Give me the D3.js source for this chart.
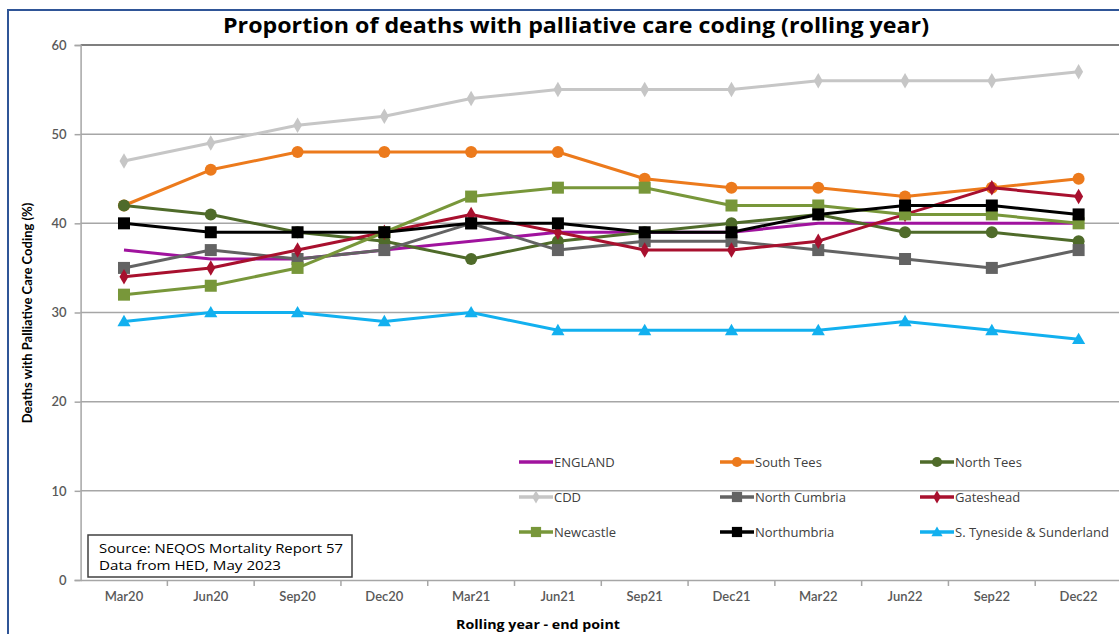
<!DOCTYPE html>
<html><head><meta charset="utf-8">
<script src="https://cdn.jsdelivr.net/npm/d3@7"></script>
<style>body{margin:0;background:#fff}svg{display:block;font-family:Lato,"Open Sans",sans-serif}</style>
</head><body><svg id="c" width="1119" height="634"></svg>
<script>
const categories = ["Mar20","Jun20","Sep20","Dec20","Mar21","Jun21","Sep21","Dec21","Mar22","Jun22","Sep22","Dec22"];
const england      = [37,36,36,37,38,39,39,39,40,40,40,40];
const southTees    = [42,46,48,48,48,48,45,44,44,43,44,45];
const northTees    = [42,41,39,38,36,38,39,40,41,39,39,38];
const cdd          = [47,49,51,52,54,55,55,55,56,56,56,57];
const northCumbria = [35,37,36,37,40,37,38,38,37,36,35,37];
const gateshead    = [34,35,37,39,41,39,37,37,38,41,44,43];
const newcastle    = [32,33,35,39,43,44,44,42,42,41,41,40];
const northumbria  = [40,39,39,39,40,40,39,39,41,42,42,41];
const sTyneside    = [29,30,30,29,30,28,28,28,28,29,28,27];
const yTicks = [0,10,20,30,40,50,60];

const series = [
  {name:"ENGLAND", values:england, color:"#a0139e", marker:"none"},
  {name:"South Tees", values:southTees, color:"#ec7a1c", marker:"circle"},
  {name:"North Tees", values:northTees, color:"#4f6b2a", marker:"circle"},
  {name:"CDD", values:cdd, color:"#c6c6c6", marker:"diamond"},
  {name:"North Cumbria", values:northCumbria, color:"#636363", marker:"square"},
  {name:"Gateshead", values:gateshead, color:"#a8102e", marker:"diamond"},
  {name:"Newcastle", values:newcastle, color:"#78973a", marker:"square"},
  {name:"Northumbria", values:northumbria, color:"#000000", marker:"square"},
  {name:"S. Tyneside & Sunderland", values:sTyneside, color:"#12b0ef", marker:"triangle"}
];

const svg = d3.select("#c");
const pLeft = 80.6, pRight = 1122, pTop = 45, pBottom = 580;
const x = d3.scaleBand().domain(categories).range([pLeft, pRight]);
const y = d3.scaleLinear().domain([0,60]).range([pBottom, pTop]);

// outer frame
svg.append("rect").attr("x",8).attr("y",10).attr("width",1130).attr("height",640)
  .attr("fill","none").attr("stroke","#2f5597").attr("stroke-width",2);

// title
svg.append("text").attr("x",576).attr("y",33).attr("text-anchor","middle")
  .attr("font-size",22).attr("font-weight","bold").attr("fill","#000")
  .attr("font-family","'Open Sans',sans-serif")
  .attr("textLength",706).attr("lengthAdjust","spacingAndGlyphs")
  .text("Proportion of deaths with palliative care coding (rolling year)");

// gridlines
svg.append("g").selectAll("line").data(yTicks.filter(d=>d>0)).join("line")
  .attr("x1",pLeft).attr("x2",pRight).attr("y1",d=>y(d)).attr("y2",d=>y(d))
  .attr("stroke",d=>d===60?"#7f7f7f":"#a6a6a6").attr("stroke-width",d=>d===60?2:1.5);

// y axis
const ya = svg.append("g").attr("transform",`translate(${pLeft},0)`)
  .call(d3.axisLeft(y).tickValues(yTicks).tickSize(6).tickPadding(8));
ya.select(".domain").attr("stroke","#a6a6a6").attr("stroke-width",1.5);
ya.selectAll(".tick line").attr("stroke","#a6a6a6").attr("stroke-width",1.5);
ya.selectAll("text").attr("font-size",13).attr("fill","#595959").attr("font-family","Lato,sans-serif").attr("font-weight","600");

// x axis
const xa = svg.append("g").attr("transform",`translate(0,${pBottom})`)
  .call(d3.axisBottom(x).tickSize(0).tickPadding(12));
xa.select(".domain").attr("stroke","#a6a6a6").attr("stroke-width",1.5);
xa.selectAll("text").attr("font-size",13).attr("fill","#595959").attr("font-family","Lato,sans-serif").attr("font-weight","600");
svg.append("g").selectAll("line").data(categories.slice(1)).join("line")
  .attr("x1",d=>x(d)).attr("x2",d=>x(d)).attr("y1",pBottom).attr("y2",pBottom+6)
  .attr("stroke","#a6a6a6").attr("stroke-width",1.5);

// axis titles
svg.append("text").attr("x",538).attr("y",629).attr("text-anchor","middle")
  .attr("font-size",13).attr("font-weight","bold").attr("fill","#000")
  .attr("font-family","'Open Sans',sans-serif")
  .attr("textLength",164).attr("lengthAdjust","spacingAndGlyphs")
  .text("Rolling year - end point");
svg.append("text").attr("transform","translate(32,313) rotate(-90)").attr("text-anchor","middle")
  .attr("font-size",13).attr("font-weight","bold").attr("fill","#000").text("Deaths with Palliative Care Coding (%)");

function drawMarker(g, type, color, cx, cy, scale){
  scale = scale||1;
  if(type==="circle") g.append("circle").attr("cx",cx).attr("cy",cy).attr("r",6*scale).attr("fill",color);
  else if(type==="square") g.append("rect").attr("x",cx-6*scale).attr("y",cy-6*scale).attr("width",12*scale).attr("height",12*scale).attr("fill",color);
  else if(type==="diamond") g.append("path").attr("d",d3.symbol(d3.symbolDiamond, 70*scale*scale)()).attr("transform",`translate(${cx},${cy})`).attr("fill",color);
  else if(type==="triangle") g.append("path").attr("d",d3.symbol(d3.symbolTriangle, 75*scale*scale)()).attr("transform",`translate(${cx},${cy+1})`).attr("fill",color);
}

const line = d3.line().x((d,i)=>x(categories[i])+x.bandwidth()/2).y(d=>y(d));
series.forEach(s=>{
  const g = svg.append("g");
  g.append("path").attr("d",line(s.values)).attr("fill","none").attr("stroke",s.color).attr("stroke-width",3).attr("stroke-linejoin","round");
  s.values.forEach((v,i)=>drawMarker(g, s.marker, s.color, x(categories[i])+x.bandwidth()/2, y(v)));
});

// legend
const legCols = [519, 720, 920], legRows = [462, 497, 532];
series.forEach((s,i)=>{
  const lx = legCols[i%3], ly = legRows[Math.floor(i/3)];
  const g = svg.append("g");
  g.append("line").attr("x1",lx).attr("x2",lx+34).attr("y1",ly).attr("y2",ly).attr("stroke",s.color).attr("stroke-width",3.5);
  drawMarker(g, s.marker, s.color, lx+17, ly, 0.85);
  g.append("text").attr("x",lx+35).attr("y",ly+4.5).attr("font-size",13).attr("fill","#404040")
    .attr("font-family","'Open Sans',sans-serif").text(s.name);
});

// source box
svg.append("rect").attr("x",88).attr("y",535).attr("width",264).attr("height",42)
  .attr("fill","#fff").attr("stroke","#404040").attr("stroke-width",1.5);
svg.append("text").attr("x",99).attr("y",553).attr("font-size",13.5).attr("fill","#000")
  .attr("font-family","'Open Sans',sans-serif").attr("textLength",244).attr("lengthAdjust","spacingAndGlyphs")
  .text("Source: NEQOS Mortality Report 57");
svg.append("text").attr("x",99).attr("y",570).attr("font-size",13.5).attr("fill","#000")
  .attr("font-family","'Open Sans',sans-serif").attr("textLength",182).attr("lengthAdjust","spacingAndGlyphs")
  .text("Data from HED, May 2023");
</script></body></html>
